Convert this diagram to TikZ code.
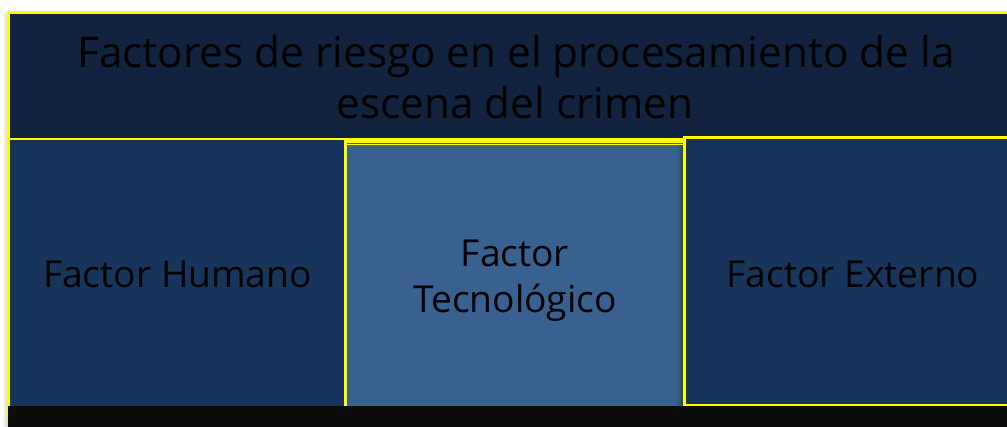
\documentclass[tikz,border=0pt]{standalone}
\usepackage{fontspec}
\setmainfont{Open Sans}
\definecolor{titlebg}{HTML}{11233F}
\definecolor{sidebg}{HTML}{17355B}
\definecolor{midbg}{HTML}{386190}
\definecolor{strip}{HTML}{0C0C0C}
\definecolor{ybord}{HTML}{FFFF00}
\tikzset{
  box/.style={draw=ybord, line width=2.2pt, anchor=north west, inner sep=0pt, outer sep=0pt},
  titletext/.style={anchor=base, font=\fontsize{42.3}{51}\selectfont, text=black, inner sep=0pt},
  boxtext/.style={anchor=base, font=\fontsize{37.2}{46}\selectfont, text=black, inner sep=0pt, align=center},
}
\begin{document}
\begin{tikzpicture}[x=1pt,y=-1pt]
\clip (0,0) rectangle (1007,427);
\fill[white] (0,0) rectangle (1007,427);
% soft shadow on the left
\shade[left color=white, right color=gray!35] (2,14) rectangle (8,427);
% title box
\node[box, fill=titlebg, minimum width=1014pt, minimum height=127pt] (title) at (8.5,12.5) {};
% left box
\node[box, fill=sidebg, minimum width=337.5pt, minimum height=280pt] (human) at (8.5,139) {};
% middle box
\node[box, fill=midbg, minimum width=339pt, minimum height=280pt] (tech) at (345.5,141.5) {};
\draw[ybord, line width=1.8pt] (tech.north west) ++(0,3) coordinate (tl) -- (tl -| tech.north east);
% shadow at right edge of middle box
\shade[left color=midbg, right color=midbg!70!black] (676,146) rectangle (683.5,406);
% right box
\node[box, fill=sidebg, minimum width=340pt, minimum height=267.5pt] (ext) at (684.5,137.5) {};
% bottom strip
\fill[strip] (8,406) rectangle (1007,427);
% texts
\node[titletext] (t1) at (516,68) {Factores de riesgo en el procesamiento de la};
\node[titletext] (t2) at (515,119) {escena del crimen};
\node[boxtext] (h) at (177.5,288) {Factor Humano};
\node[boxtext] (f1) at (515,267) {Factor};
\node[boxtext] (f2) at (515,313) {Tecnológico};
\node[boxtext] (e) at (853,288) {Factor Externo};
\end{tikzpicture}
\end{document}
